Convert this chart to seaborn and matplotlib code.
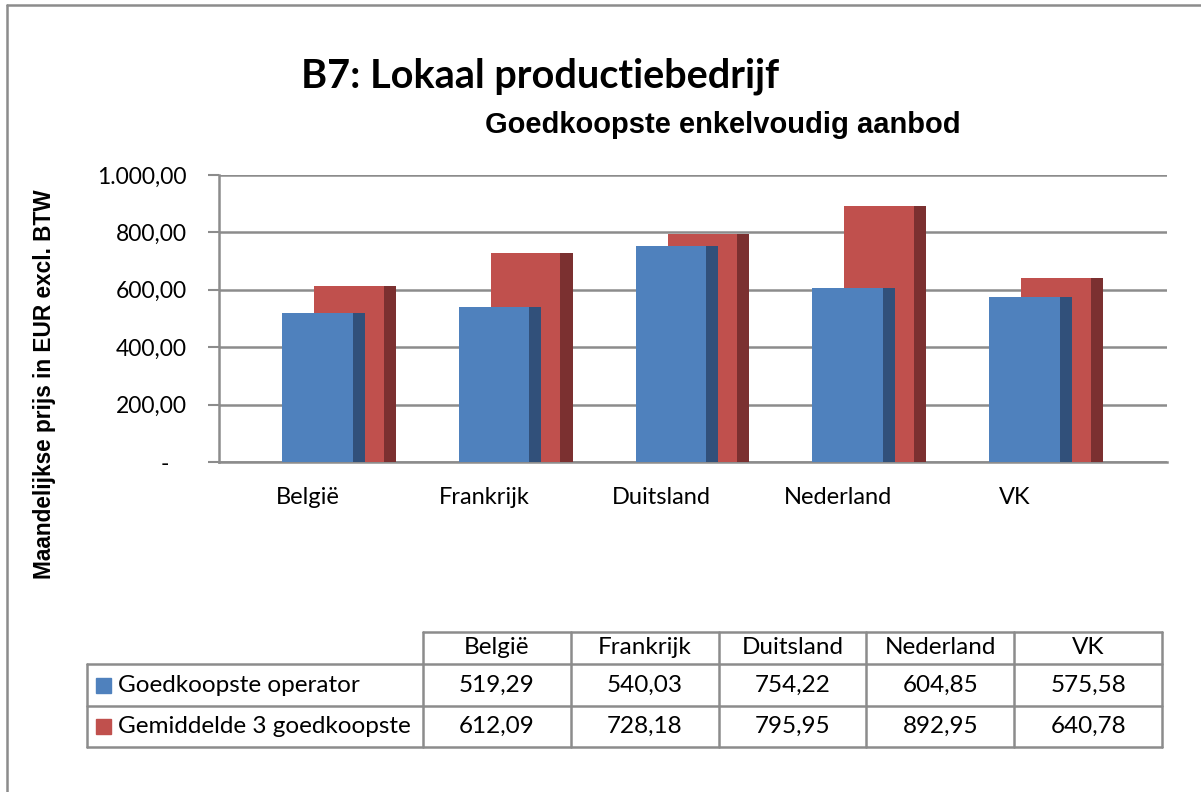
import numpy as np
import matplotlib
matplotlib.use("Agg")
import matplotlib.pyplot as plt
import seaborn as sns

# data
landen = ["België", "Frankrijk", "Duitsland", "Nederland", "VK"]
goedkoopste = [519.29, 540.03, 754.22, 604.85, 575.58]
gemiddelde3 = [612.09, 728.18, 795.95, 892.95, 640.78]
reeksen = ["Goedkoopste operator", "Gemiddelde 3 goedkoopste"]
y_ticks = [0, 200, 400, 600, 800, 1000]

titel = "B7: Lokaal productiebedrijf"
subtitel = "Goedkoopste enkelvoudig aanbod"
y_label = "Maandelijkse prijs in EUR excl. BTW"

BLAUW, BLAUW_ZIJ = "#4F81BD", "#31507A"
ROOD, ROOD_ZIJ = "#C0504D", "#7B3030"
GRIJS = "#8C8C8C"


def nl(v, dec=2):
    s = f"{v:,.{dec}f}"
    return s.replace(",", "X").replace(".", ",").replace("X", ".")


sns.set_theme(style="white")
plt.rcParams["font.family"] = ["Lato", "DejaVu Sans"]
plt.rcParams["text.color"] = "black"
plt.rcParams["xtick.labelcolor"] = "black"
plt.rcParams["ytick.labelcolor"] = "black"

W, H = 1201, 792
fig = plt.figure(figsize=(W / 100, H / 100), dpi=100)

# background axes in pixel coords for frame, titles and data table
bg = fig.add_axes([0, 0, 1, 1])
bg.set_xlim(0, W)
bg.set_ylim(H, 0)
bg.axis("off")

ax = fig.add_axes([219 / W, 1 - 462 / H, (1167 - 219) / W, (462 - 175) / H])

pos = np.arange(len(landen))
# pseudo-3D bars: back series (red) first, then front series (blue)
for x, w, vals, col in [
    (pos + 0.4655, 0.069, gemiddelde3, ROOD_ZIJ),
    (pos + 0.234, 0.394, gemiddelde3, ROOD),
    (pos + 0.29, 0.068, goedkoopste, BLAUW_ZIJ),
    (pos + 0.056, 0.400, goedkoopste, BLAUW),
]:
    sns.barplot(x=x, y=vals, native_scale=True, width=w, color=col,
                saturation=1, linewidth=0, errorbar=None, ax=ax, zorder=3)

ax.set_xlim(-0.5, 4.5 + 64 / 176.8)
ax.set_ylim(0, 1000)
ax.set_yticks(y_ticks)
ax.set_yticklabels(["-   " if t == 0 else nl(t) for t in y_ticks], fontsize=16.5)
ax.set_xticks(pos)
ax.set_xticklabels(landen, fontsize=17)
ax.set_xticks(np.arange(len(landen) + 1) - 0.5, minor=True)
ax.tick_params(axis="x", which="major", length=0, pad=18)
ax.tick_params(axis="x", which="minor", length=7, width=1.5, color=GRIJS, direction="out")
ax.tick_params(axis="y", length=8, width=1.5, color=GRIJS, direction="out", pad=15, left=True)
ax.yaxis.grid(True, color=GRIJS, lw=1.8, zorder=0)
ax.set_axisbelow(True)
ax.set_xlabel("")
ax.set_ylabel("")
for s in ["top", "right"]:
    ax.spines[s].set_visible(False)
for s in ["left", "bottom"]:
    ax.spines[s].set_color(GRIJS)
    ax.spines[s].set_linewidth(1.8)

# frame
bg.plot([7, W], [5, 5], color=GRIJS, lw=1.8)
bg.plot([7, 7], [5, H], color=GRIJS, lw=1.8)

# titles
bg.text(540, 76, titel, ha="center", va="center", fontsize=28.5, fontweight="bold")
bg.text(723, 125, subtitel, ha="center", va="center", fontsize=21,
        fontweight="bold", family="Liberation Sans")
bg.text(45, 384, y_label, ha="center", va="center", rotation=90, fontsize=16.3,
        fontweight="bold", family="Liberation Sans")

# data table
col_x = np.linspace(423, 1162, len(landen) + 1)
row_y = [632, 664, 706, 747]
lw = 1.8
bg.plot([col_x[0], col_x[-1]], [row_y[0], row_y[0]], color=GRIJS, lw=lw)
for y in row_y[1:]:
    bg.plot([87, col_x[-1]], [y, y], color=GRIJS, lw=lw)
for x in col_x:
    bg.plot([x, x], [row_y[0], row_y[-1]], color=GRIJS, lw=lw)
bg.plot([87, 87], [row_y[1], row_y[-1]], color=GRIJS, lw=lw)

mid = (col_x[:-1] + col_x[1:]) / 2
for x, land in zip(mid, landen):
    bg.text(x, (row_y[0] + row_y[1]) / 2, land, ha="center", va="center", fontsize=17.5)
for r, (naam, vals, col) in enumerate(zip(reeksen, [goedkoopste, gemiddelde3], [BLAUW, ROOD])):
    yc = (row_y[r + 1] + row_y[r + 2]) / 2
    bg.add_patch(plt.Rectangle((96, yc - 7.5), 15, 15, color=col))
    bg.text(118, yc, naam, ha="left", va="center", fontsize=17.5)
    for x, v in zip(mid, vals):
        bg.text(x, yc, nl(v), ha="center", va="center", fontsize=17.5)

fig.savefig("out.png", dpi=100)
